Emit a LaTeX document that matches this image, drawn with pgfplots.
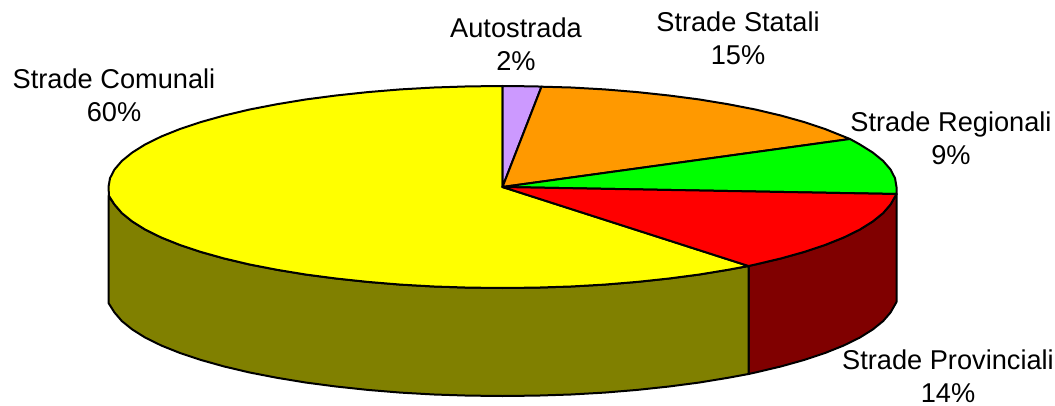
\documentclass[border=0pt]{standalone}
\usepackage{pgfplots}
\usepackage{fontspec}
\setmainfont{Liberation Sans}
\pgfplotsset{compat=1.18}
\definecolor{fettaGialla}{RGB}{255,255,0}
\definecolor{fettaRossa}{RGB}{255,0,0}
\definecolor{fettaVerde}{RGB}{0,255,0}
\definecolor{fettaViola}{RGB}{204,153,255}
\definecolor{fettaArancio}{RGB}{255,153,0}
\definecolor{fianco}{RGB}{128,128,0}
\definecolor{fiancoRosso}{RGB}{128,0,0}
\begin{document}
\begin{tikzpicture}
  \path[use as bounding box] (0,0) rectangle (791.25pt,304.5pt);
  \begin{axis}[
      at={(0,0)}, anchor=south west,
      scale only axis,
      width=791.25pt, height=304.5pt,
      xmin=0, xmax=1055,
      ymin=0, ymax=406,
      y dir=reverse,
      hide axis,
      clip=false,
      every axis plot post/.append style={draw=black, line width=1.5pt, line join=round},
    ]

    % fianchi della torta (sotto)
    \addplot[fill=fiancoRosso] coordinates {
        (896.5,194) (890.5,204.5) (883.1,213.1) (872.7,221.5) (859.6,229.7)
        (843.7,237.5) (825.3,244.9) (804.3,251.9) (781.1,258.4) (755.8,264.4) (748.5,266)
        (748.5,374) (755.8,372.4) (781.1,366.4) (804.3,359.9) (825.3,352.9) (843.7,345.5)
        (859.6,337.7) (872.7,329.5) (883.1,321.1) (890.5,312.5) (896.5,302)
      } -- cycle;
    \addplot[fill=fianco] coordinates {
        (748.5,266) (728.5,269.7) (699.5,274.5) (669,278.5) (637.2,281.9) (604.5,284.6)
        (570.9,286.5) (536.9,287.6) (502.5,288) (468.1,287.6) (434.1,286.5) (400.5,284.6)
        (367.8,281.9) (336,278.5) (305.5,274.5) (276.5,269.7) (249.2,264.4) (223.9,258.4)
        (200.7,251.9) (179.7,244.9) (161.3,237.5) (145.4,229.7) (132.3,221.5) (121.9,213.1)
        (114.5,204.5) (108.5,196)
        (108.5,303) (114.5,312.5) (121.9,321.1) (132.3,329.5) (145.4,337.7) (161.3,345.5)
        (179.7,352.9) (200.7,359.9) (223.9,366.4) (249.2,372.4) (276.5,377.7) (305.5,382.5)
        (336,386.5) (367.8,389.9) (400.5,392.6) (434.1,394.5) (468.1,395.6) (502.5,396)
        (536.9,395.6) (570.9,394.5) (604.5,392.6) (637.2,389.9) (669,386.5) (699.5,382.5)
        (728.5,377.7) (748.5,374)
      } -- cycle;

    % fette (sopra)
    \addplot[fill=fettaGialla] coordinates {
        (502.5,187) (748.5,266) (728.5,269.7) (699.5,274.5) (669,278.5) (637.2,281.9)
        (604.5,284.6) (570.9,286.5) (536.9,287.6) (502.5,288) (468.1,287.6) (434.1,286.5)
        (400.5,284.6) (367.8,281.9) (336,278.5) (305.5,274.5) (276.5,269.7) (249.2,264.4)
        (223.9,258.4) (200.7,251.9) (179.7,244.9) (161.3,237.5) (145.4,229.7) (132.3,221.5)
        (121.9,213.1) (114.5,204.5) (109,196) (108.5,187) (110,178.2) (114.5,169.5)
        (121.9,160.9) (132.3,152.5) (145.4,144.3) (161.3,136.5) (179.7,129.1) (200.7,122.1)
        (223.9,115.6) (249.2,109.6) (276.5,104.3) (305.5,99.5) (336,95.5) (367.8,92.1)
        (400.5,89.4) (434.1,87.5) (468.1,86.4) (502.5,86)
      } -- cycle;
    \addplot[fill=fettaViola] coordinates {
        (502.5,187) (502.5,86) (536.9,86.4) (541.5,86.7)
      } -- cycle;
    \addplot[fill=fettaArancio] coordinates {
        (502.5,187) (541.5,86.7) (570.9,87.5) (604.5,89.4) (637.2,92.1) (669,95.5)
        (699.5,99.5) (728.5,104.3) (755.8,109.6) (781.1,115.6) (804.3,122.1) (825.3,129.1)
        (843.7,136.5) (850,139)
      } -- cycle;
    \addplot[fill=fettaVerde] coordinates {
        (502.5,187) (850,139) (859.6,144.3) (872.7,152.5) (883.1,160.9) (890.5,169.5)
        (895,178.2) (896.5,187) (896.5,194)
      } -- cycle;
    \addplot[fill=fettaRossa] coordinates {
        (502.5,187) (896.5,194) (890.5,204.5) (883.1,213.1) (872.7,221.5) (859.6,229.7)
        (843.7,237.5) (825.3,244.9) (804.3,251.9) (781.1,258.4) (755.8,264.4) (748.5,266)
      } -- cycle;

    % etichette
    \begin{scope}[every node/.style={align=center, inner sep=0pt, font=\fontsize{20.4}{25}\selectfont}]
      \node at (axis cs:114,95) {Strade Comunali\\60\%};
      \node at (axis cs:516,44) {Autostrada\\2\%};
      \node at (axis cs:738,38) {Strade Statali\\15\%};
      \node at (axis cs:951,138) {Strade Regionali\\9\%};
      \node at (axis cs:948,376.5) {Strade Provinciali\\14\%};
    \end{scope}
  \end{axis}
\end{tikzpicture}
\end{document}
